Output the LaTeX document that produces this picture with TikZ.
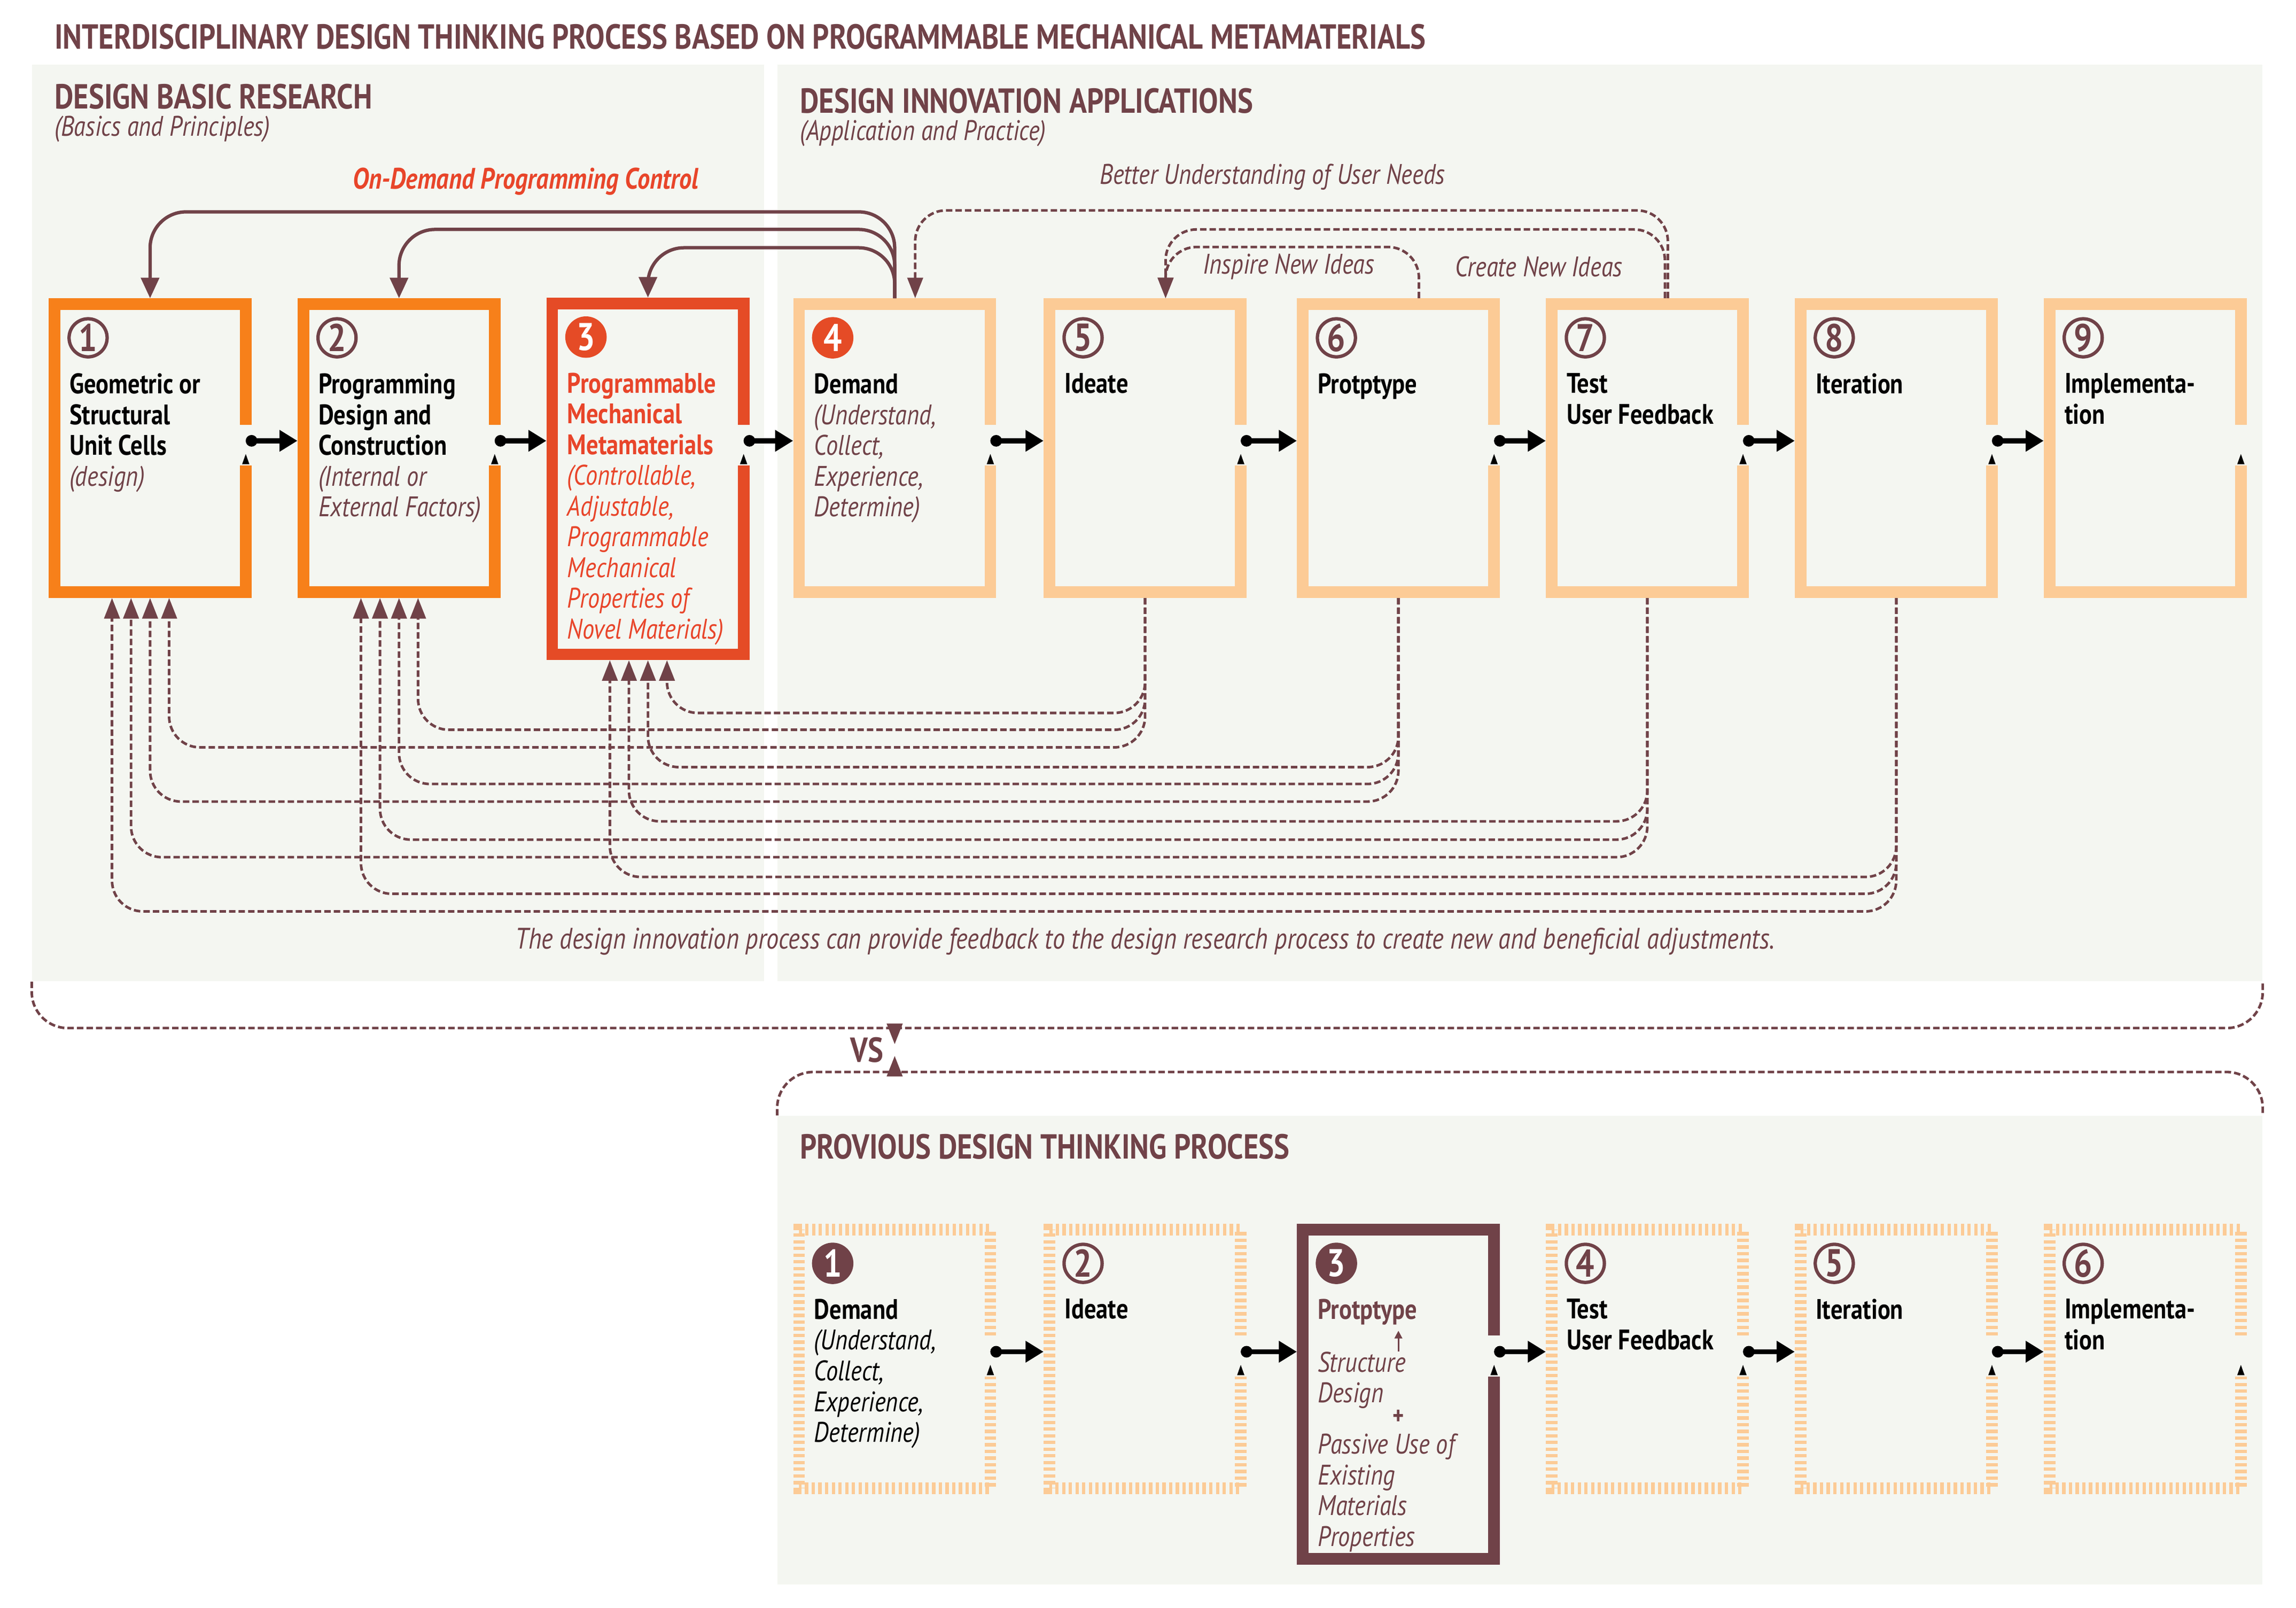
\documentclass[tikz,border=0pt]{standalone}
\usepackage{fontspec}
\setmainfont{PT Sans}[FakeStretch=0.84]
\usetikzlibrary{arrows.meta,calc,positioning}

\definecolor{maroon}{RGB}{112,66,72}
\definecolor{deeporange}{RGB}{247,128,26}
\definecolor{boxred}{RGB}{229,75,38}
\definecolor{redtext}{RGB}{232,69,42}
\definecolor{lightorange}{RGB}{252,203,150}
\definecolor{panelbg}{RGB}{244,246,241}

\newcommand\boxfont{\fontsize{11}{11.95}\selectfont}
% frame with an opening on the right side
\newcommand\stepframe[2]{%
  \draw[line width=4.5pt,#2] ([shift={(-4,-16)}]#1.east) -- ([shift={(-4,4)}]#1.north east)
    -- ([shift={(4,4)}]#1.north west) -- ([shift={(4,-4)}]#1.south west)
    -- ([shift={(-4,-4)}]#1.south east) -- ([shift={(-4,12)}]#1.east);
  \fill ([shift={(-6.5,11)}]#1.east) -- ++(5,0) -- ++(-2.5,-7) -- cycle;}

\tikzset{
  panel/.style={fill=panelbg, inner sep=0},
  box/.style={minimum width=2.76cm, minimum height=4.08cm, inner sep=0},
  num/.style={circle, draw=maroon, line width=1.3pt, minimum size=0.52cm, inner sep=0,
    text=maroon, font=\bfseries\fontsize{15}{15}\selectfont},
  numfill/.style={num, fill=#1, draw=#1, text=white},
  txt/.style={anchor=north west, align=left, inner sep=0, font=\boxfont},
  head/.style={anchor=west, inner sep=0, text=maroon, font=\bfseries\fontsize{13.5}{13.5}\selectfont},
  sub/.style={anchor=west, inner sep=0, text=maroon, font=\itshape\fontsize{11}{11}\selectfont},
  flow/.style={line width=2pt, {Circle[length=4.5pt]}-{Triangle[length=7pt,width=8pt]}},
  ctrl/.style={maroon, line width=1.3pt, rounded corners=14pt, -{Triangle[length=8pt,width=7pt]}},
  fb/.style={maroon, line width=1pt, dash pattern=on 2.5pt off 1.2pt, rounded corners=12pt,
    -{Triangle[length=8pt,width=6pt]}},
  bracket/.style={maroon, line width=1pt, dash pattern=on 2.5pt off 1.2pt, rounded corners=14pt},
}

\begin{document}
\begin{tikzpicture}[x=0.02cm, y=-0.02cm]
\useasboundingbox (0,0) rectangle (1568,1098);

% panels
\node[panel, minimum width=10cm, minimum height=12.52cm] (lpan) at (272,357) {};
\node[panel, minimum width=20.28cm, minimum height=12.52cm] (rpan) at (1038,357) {};
\node[panel, minimum width=20.28cm, minimum height=6.4cm] (bpan) at (1038,922) {};

% headings
\node[head] (title) at (37,25) {INTERDISCIPLINARY DESIGN THINKING PROCESS BASED ON PROGRAMMABLE MECHANICAL METAMATERIALS};
\node[head] (research) at (37,66) {DESIGN BASIC RESEARCH};
\node[sub] (researchsub) at (37,88) {(Basics and Principles)};
\node[head] (innov) at (546,69) {DESIGN INNOVATION APPLICATIONS};
\node[sub] (innovsub) at (546,91) {(Application and Practice)};
\node[head] (previous) at (546,783) {PROVIOUS DESIGN THINKING PROCESS};

% top row
\node[box] (b1) at (102.5,306) {};
\node[box] (b2) at (272.5,306) {};
\node[box, minimum height=4.94cm] (b3) at (442.5,327) {};
\node[box] (b4) at (611,306) {};
\node[box] (b5) at (782,306) {};
\node[box] (b6) at (955,306) {};
\node[box] (b7) at (1125,306) {};
\node[box] (b8) at (1295,306) {};
\node[box] (b9) at (1465,306) {};
\stepframe{b1}{deeporange}
\stepframe{b2}{deeporange}
\foreach \b in {b4,b5,b6,b7,b8,b9}{\stepframe{\b}{lightorange}}
% box 3 is taller: opening kept at the row height
\draw[line width=4.5pt,boxred] ([shift={(-4,-16)}]b3.east |- b1.east) -- ([shift={(-4,4)}]b3.north east)
  -- ([shift={(4,4)}]b3.north west) -- ([shift={(4,-4)}]b3.south west)
  -- ([shift={(-4,-4)}]b3.south east) -- ([shift={(-4,12)}]b3.east |- b1.east);
\fill ([shift={(-6.5,11)}]b3.east |- b1.east) -- ++(5,0) -- ++(-2.5,-7) -- cycle;

\node[num] (n1) at ([shift={(27,27)}]b1.north west) {1};
\node[num] (n2) at ([shift={(27,27)}]b2.north west) {2};
\node[numfill=boxred] (n3) at ([shift={(27,27)}]b3.north west) {3};
\node[numfill=boxred] (n4) at ([shift={(27,27)}]b4.north west) {4};
\node[num] (n5) at ([shift={(27,27)}]b5.north west) {5};
\node[num] (n6) at ([shift={(27,27)}]b6.north west) {6};
\node[num] (n7) at ([shift={(27,27)}]b7.north west) {7};
\node[num] (n8) at ([shift={(27,27)}]b8.north west) {8};
\node[num] (n9) at ([shift={(27,27)}]b9.north west) {9};

\node[txt] (t1) at ([shift={(14,51)}]b1.north west) {\textbf{Geometric or}\\\textbf{Structural}\\\textbf{Unit Cells}\\\textcolor{maroon}{\itshape(design)}};
\node[txt] (t2) at ([shift={(14,51)}]b2.north west) {\textbf{Programming}\\\textbf{Design and}\\\textbf{Construction}\\\textcolor{maroon}{\itshape(Internal or}\\\textcolor{maroon}{\itshape External Factors)}};
\node[txt, text=redtext] (t3) at ([shift={(14,51)}]b3.north west) {\textbf{Programmable}\\\textbf{Mechanical}\\\textbf{Metamaterials}\\\itshape(Controllable,\\\itshape Adjustable,\\\itshape Programmable\\\itshape Mechanical\\\itshape Properties of\\\itshape Novel Materials)};
\node[txt] (t4) at ([shift={(14,51)}]b4.north west) {\textbf{Demand}\\\textcolor{maroon}{\itshape(Understand,}\\\textcolor{maroon}{\itshape Collect,}\\\textcolor{maroon}{\itshape Experience,}\\\textcolor{maroon}{\itshape Determine)}};
\node[txt] (t5) at ([shift={(14,51)}]b5.north west) {\textbf{Ideate}};
\node[txt] (t6) at ([shift={(14,51)}]b6.north west) {\textbf{Protptype}};
\node[txt] (t7) at ([shift={(14,51)}]b7.north west) {\textbf{Test}\\\textbf{User Feedback}};
\node[txt] (t8) at ([shift={(14,51)}]b8.north west) {\textbf{Iteration}};
\node[txt] (t9) at ([shift={(14,51)}]b9.north west) {\textbf{Implementa-}\\\textbf{tion}};

\foreach \a/\b in {b1/b2,b2/b3,b3/b4,b4/b5,b5/b6,b6/b7,b7/b8,b8/b9}
  \draw[flow] ([shift={(-4,-5)}]\a.east |- b1.east) -- ([shift={(0,-5)}]\b.west |- b1.east);

% programming control
\draw[ctrl] (b4.north) |- ($(b1.north)+(0,-59)$) -- (b1.north);
\draw[ctrl] (b4.north) |- ($(b2.north)+(0,-47)$) -- (b2.north);
\draw[ctrl] (b4.north) |- ($(b3.north)+(0,-34)$) -- (b3.north);
\node[inner sep=0, text=redtext, font=\bfseries\itshape\fontsize{11.5}{11.5}\selectfont] (ctrllabel) at (359,124) {On-Demand Programming Control};

% user needs loops
\draw[fb] ($(b7.north)+(14,0)$) |- ($(b4.north)+(14,-60)$) -- ($(b4.north)+(14,0)$);
\draw[fb] ($(b7.north)+(12,0)$) |- ($(b5.north)+(14,-47)$) -- ($(b5.north)+(14,0)$);
\draw[fb] ($(b6.north)+(14,0)$) |- ($(b5.north)+(14,-35)$) -- ($(b5.north)+(14,0)$);
\node[sub, anchor=center] (needs) at (869,121) {Better Understanding of User Needs};
\node[sub, anchor=center] (inspire) at (880,182) {Inspire New Ideas};
\node[sub, anchor=center] (create) at (1051,182) {Create New Ideas};

% feedback to research
\foreach \src/\dst/\dx/\lev in {b5/b3/13/36, b6/b3/0/73, b7/b3/-13/110, b8/b3/-26/148,
    b5/b2/13/90, b6/b2/0/127, b7/b2/-13/165, b8/b2/-26/202,
    b5/b1/13/102, b6/b1/0/139, b7/b1/-13/177, b8/b1/-26/214}
  \draw[fb] (\src.south) |- ($(\dst.south)+(\dx,\lev)$) -- ($(\dst.south)+(\dx,0)$);
\node[sub, anchor=center, font=\itshape\fontsize{11.5}{11.5}\selectfont] (fbnote) at (782,643) {The design innovation process can provide feedback to the design research process to create new and beneficial adjustments.};

% versus
\coordinate (vsa) at (611,702);
\coordinate (vsb) at (611,713);
\coordinate (vsc) at (611,721);
\coordinate (vsd) at (611,732);
\draw[bracket] (lpan.south west) |- (vsa) -| (rpan.south east);
\draw[bracket] (bpan.north west) |- (vsd) -| (bpan.north east);
\draw[maroon, line width=1pt, -{Triangle[length=8pt,width=6pt]}] (vsa) -- (vsb);
\draw[maroon, line width=1pt, -{Triangle[length=8pt,width=6pt]}] (vsd) -- (vsc);
\node[inner sep=0, text=maroon, font=\bfseries\fontsize{13.5}{13.5}\selectfont] (vs) at (592,717) {VS};

% previous process
\node[box, minimum height=3.68cm] (p1) at (611,928) {};
\node[box, minimum height=3.68cm] (p2) at (782,928) {};
\node[box, minimum height=4.64cm] (p3) at (955,952) {};
\node[box, minimum height=3.68cm] (p4) at (1125,928) {};
\node[box, minimum height=3.68cm] (p5) at (1295,928) {};
\node[box, minimum height=3.68cm] (p6) at (1465,928) {};
\foreach \b in {p1,p2,p4,p5,p6}{\stepframe{\b}{lightorange, dash pattern=on 1.3pt off 1.3pt}}
\draw[line width=4.5pt,maroon] ([shift={(-4,-16)}]p3.east |- p1.east) -- ([shift={(-4,4)}]p3.north east)
  -- ([shift={(4,4)}]p3.north west) -- ([shift={(4,-4)}]p3.south west)
  -- ([shift={(-4,-4)}]p3.south east) -- ([shift={(-4,12)}]p3.east |- p1.east);
\fill ([shift={(-6.5,11)}]p3.east |- p1.east) -- ++(5,0) -- ++(-2.5,-7) -- cycle;

\node[numfill=maroon] (m1) at ([shift={(27,27)}]p1.north west) {1};
\node[num] (m2) at ([shift={(27,27)}]p2.north west) {2};
\node[numfill=maroon] (m3) at ([shift={(27,27)}]p3.north west) {3};
\node[num] (m4) at ([shift={(27,27)}]p4.north west) {4};
\node[num] (m5) at ([shift={(27,27)}]p5.north west) {5};
\node[num] (m6) at ([shift={(27,27)}]p6.north west) {6};

\node[txt] (s1) at ([shift={(14,51)}]p1.north west) {\textbf{Demand}\\\itshape(Understand,\\\itshape Collect,\\\itshape Experience,\\\itshape Determine)};
\node[txt] (s2) at ([shift={(14,51)}]p2.north west) {\textbf{Ideate}};
\node[txt, text=maroon] (s3) at ([shift={(14,51)}]p3.north west) {\textbf{Protptype}};
\node[txt, text=maroon, font=\boxfont\itshape] (s3a) at ([shift={(14,87)}]p3.north west) {Structure\\Design};
\node[inner sep=0, text=maroon, font=\bfseries] (plus) at ([shift={(0,132)}]p3.north) {+};
\node[txt, text=maroon, font=\boxfont\itshape] (s3b) at ([shift={(14,143)}]p3.north west) {Passive Use of\\Existing\\Materials\\Properties};
\draw[maroon, line width=0.6pt, -{Triangle[length=3pt,width=3pt]}] (s3a.north -| p3.north) -- ++(0,-14);
\node[txt] (s4) at ([shift={(14,51)}]p4.north west) {\textbf{Test}\\\textbf{User Feedback}};
\node[txt] (s5) at ([shift={(14,51)}]p5.north west) {\textbf{Iteration}};
\node[txt] (s6) at ([shift={(14,51)}]p6.north west) {\textbf{Implementa-}\\\textbf{tion}};

\foreach \a/\b in {p1/p2,p2/p3,p3/p4,p4/p5,p5/p6}
  \draw[flow] ([shift={(-4,-5)}]\a.east |- p1.east) -- ([shift={(0,-5)}]\b.west |- p1.east);
\end{tikzpicture}
\end{document}
